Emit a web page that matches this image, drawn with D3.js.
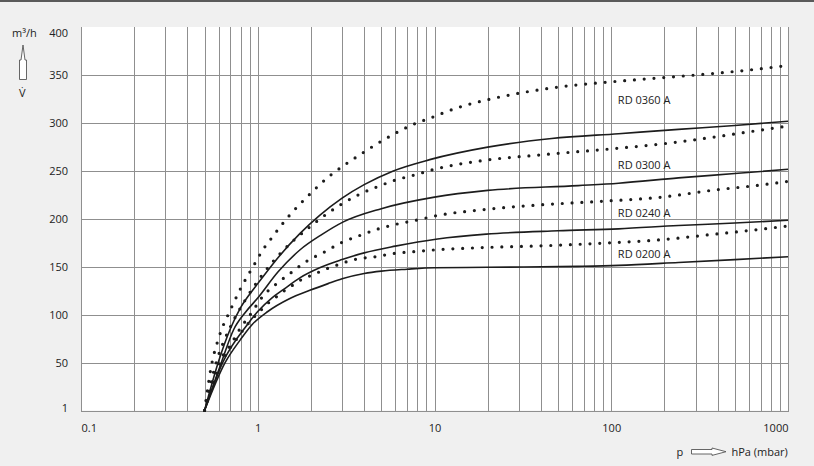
<!DOCTYPE html>
<html>
<head>
<meta charset="utf-8">
<script src="https://cdn.jsdelivr.net/npm/d3@7"></script>
<style>
  html, body { margin: 0; padding: 0; background: #f0f0f0; }
  svg { display: block; }
  text { font-family: "Open Sans", "Noto Sans", sans-serif; fill: #222; }
</style>
</head>
<body>
<svg id="chart" width="814" height="466"></svg>
<script>
// ---------- data ----------
const models = ["RD 0360 A", "RD 0300 A", "RD 0240 A", "RD 0200 A"];

const xTicks = [0.1, 1, 10, 100, 1000];
const xTickLabels = ["0.1", "1", "10", "100", "1000"];
const yTicks = [1, 50, 100, 150, 200, 250, 300, 350, 400];
const yTickLabels = ["1", "50", "100", "150", "200", "250", "300", "350", "400"];

// dotted curves (upper of each pair)
const dotted0360 = [[0.5,1],[0.55,50],[0.6,76],[0.71,108],[0.79,126],[0.95,152],[1.085,170],[1.17,178],[1.48,202],[1.92,224],[2.55,245],[3.13,257],[3.85,268],[4.78,279],[5.95,289],[7.44,298],[9.37,305],[13.5,316],[19.6,324],[32,332],[52.6,338],[87,342],[186,347],[400,352],[657,356],[1000,360]];
const dotted0300 = [[0.5,1],[0.58,50],[0.7,88],[0.85,116],[1.04,140],[1.35,165],[1.62,179],[1.97,192],[2.2,199],[3,216],[3.77,226],[4.78,234],[6.07,241],[7.7,246],[10,252],[18.7,261],[40,267],[97,273],[186,278],[400,286],[657,292],[1000,297]];
const dotted0240 = [[0.5,1],[0.6,50],[0.7,69],[0.8,87],[0.917,102],[0.98,110],[1.05,118],[1.3,134],[1.56,145],[1.72,151],[1.92,157],[2.39,166],[3,176],[3.77,183],[4.82,190],[6.14,195],[7.9,199],[10.2,203.6],[19,210],[40,215],[87,218.6],[186,222.7],[400,230.8],[657,235],[1000,239.4]];
const dotted0200 = [[0.5,1],[0.62,50],[0.75,74],[0.87,90],[1.05,106],[1.15,113],[1.27,119],[1.4,125],[1.58,131.5],[1.76,137],[1.97,141],[2.22,145],[2.5,149],[2.82,152.4],[3.21,156],[3.6,158.4],[4.63,161],[6,164.6],[7.7,166.3],[9.9,168],[18.7,170.5],[40,172.3],[87,175],[186,178.5],[400,184.8],[657,189],[1000,193]];

// solid curves (lower of each pair)
const solid0360 = [[0.5,1],[0.6,52],[0.7,86],[0.8,108],[0.9,122],[1,133],[1.33,162],[1.73,185],[2.24,204],[3,222],[4,236],[5.8,250],[9.4,262],[20,275],[46,284],[110,289],[240,293.5],[500,297.5],[1000,302]];
const solid0300 = [[0.5,1],[0.62,50],[0.73,85],[0.85,103],[1,118],[1.3,145],[1.73,168],[2.3,184],[3.03,197],[5,211],[10,223],[20,230],[65,235],[110,237.5],[240,243],[500,247.5],[1000,252]];
const solid0240 = [[0.5,1],[0.63,50],[0.87,90],[1,104],[1.2,118],[1.4,127],[1.73,139],[2.24,149.5],[3,158],[4,165],[6,172],[10.4,179.5],[19.6,184.5],[50,188],[110,190],[240,193.5],[500,196],[1000,199]];
const solid0200 = [[0.5,1],[0.65,50],[0.8,75],[0.925,90],[1.14,104],[1.5,117],[1.97,126],[2.5,133],[3,138],[4,143.5],[5,146],[7,148],[10,149.5],[20,150],[65,151],[110,152],[240,155],[500,158],[1000,161]];

const dottedSeries = [dotted0360, dotted0300, dotted0240, dotted0200];
const solidSeries = [solid0360, solid0300, solid0240, solid0200];
// label anchor (pressure, flow) for each model
const labelP = [109, 109, 109, 109];
const labelV = [320, 252.3, 202.4, 159.7];

// ---------- drawing ----------
const svg = d3.select("#chart");
const W = 814, H = 466;
const mLeft = 81, mRight = 788, mTop = 27, mBottom = 410.5;

const x = d3.scaleLog().domain([0.1, 1000]).range([mLeft, mRight]);
const y = d3.scaleLinear().domain([1, 400]).range([mBottom, mTop]);

// top frame line
svg.append("rect").attr("x", 0).attr("y", 0).attr("width", W).attr("height", 2).attr("fill", "#5a5a5a");

// plot background
svg.append("rect").attr("x", mLeft).attr("y", mTop).attr("width", mRight - mLeft).attr("height", mBottom - mTop).attr("fill", "#fff");

// vertical grid (log minor lines)
const vGrid = [];
for (let d = 0.1; d < 1000; d *= 10) {
  for (let k = 1; k <= 9; k++) vGrid.push(+(d * k).toPrecision(3));
}
vGrid.push(1000);
const grid = svg.append("g").attr("stroke", "#8f8f8f").attr("stroke-width", 1).attr("shape-rendering", "crispEdges");
grid.selectAll("line.v").data(vGrid).join("line").attr("class", "v")
  .attr("x1", d => Math.round(x(d)) + 0.5).attr("x2", d => Math.round(x(d)) + 0.5)
  .attr("y1", mTop).attr("y2", mBottom);
grid.selectAll("line.h").data(yTicks.filter(v => v < 400)).join("line").attr("class", "h")
  .attr("x1", mLeft).attr("x2", mRight)
  .attr("y1", d => Math.round(y(d)) + 0.5).attr("y2", d => Math.round(y(d)) + 0.5);

// axes with D3 axis generators (labels only, lines hidden)
const xAxis = d3.axisBottom(x).tickValues(xTicks).tickFormat((d, i) => xTickLabels[i]).tickSize(0).tickPadding(0);
const gx = svg.append("g").attr("transform", `translate(0, ${mBottom})`).call(xAxis);
gx.select(".domain").remove();
gx.selectAll("text").attr("y", 21).attr("dy", 0).attr("font-size", 11).attr("fill", "#222")
  .style("font-family", '"Open Sans", sans-serif')
  .attr("text-anchor", (d, i) => i === 0 ? "start" : (i === xTicks.length - 1 ? "end" : "middle"));

const yAxis = d3.axisLeft(y).tickValues(yTicks).tickFormat((d, i) => yTickLabels[i]).tickSize(0).tickPadding(0);
const gy = svg.append("g").attr("transform", `translate(${mLeft - 13}, 0)`).call(yAxis);
gy.select(".domain").remove();
gy.selectAll("text").attr("font-size", 11).attr("fill", "#222")
  .style("font-family", '"Open Sans", sans-serif')
  .attr("dy", d => d === 400 ? "0.85em" : (d === 1 ? "0.05em" : "0.32em"));

// left and bottom frame
svg.append("line").attr("x1", mLeft + 0.5).attr("x2", mLeft + 0.5).attr("y1", mTop).attr("y2", mBottom + 0.5)
  .attr("stroke", "#8f8f8f").attr("shape-rendering", "crispEdges");
svg.append("line").attr("x1", mLeft).attr("x2", mRight + 1).attr("y1", Math.round(mBottom) + 0.5).attr("y2", Math.round(mBottom) + 0.5)
  .attr("stroke", "#8f8f8f").attr("shape-rendering", "crispEdges");

// curves
const line = d3.line().x(d => x(d[0])).y(d => y(d[1])).curve(d3.curveMonotoneX);
const curves = svg.append("g").attr("fill", "none");
curves.selectAll("path.solid").data(solidSeries).join("path")
  .attr("class", "solid").attr("d", line)
  .attr("stroke", "#1c1c1c").attr("stroke-width", 1.6);
curves.selectAll("path.dotted").data(dottedSeries).join("path")
  .attr("class", "dotted").attr("d", line)
  .attr("stroke", "#1c1c1c").attr("stroke-width", 3.2)
  .attr("stroke-linecap", "round").attr("stroke-dasharray", "0 9.8");

// series labels
svg.append("g").selectAll("text").data(models).join("text")
  .attr("x", (d, i) => x(labelP[i]))
  .attr("y", (d, i) => y(labelV[i]))
  .attr("font-size", 11)
  .text(d => d);

// y axis unit: m³/h, arrow, V̇
svg.append("text").attr("x", 12).attr("y", 37).attr("font-size", 11).text("m³/h");
svg.append("path")
  .attr("d", "M19.5,79.5 L19.5,60 L21,60 L23,45 L25,60 L26.5,60 L26.5,79.5 Z")
  .attr("fill", "#fff").attr("stroke", "#555").attr("stroke-width", 0.9);
svg.append("text").attr("x", 19).attr("y", 97).attr("font-size", 11).text("V\u0307");

// x axis unit: p ⇨ hPa (mbar)
svg.append("text").attr("x", 676.5).attr("y", 456).attr("font-size", 11).text("p");
svg.append("path")
  .attr("d", "M691.5,449.5 L712,449.5 L712,448 L726,451.7 L712,455.4 L712,454 L691.5,454 Z")
  .attr("fill", "#fff").attr("stroke", "#555").attr("stroke-width", 0.9);
svg.append("text").attr("x", 731.5).attr("y", 456).attr("font-size", 11).text("hPa (mbar)");
</script>
</body>
</html>
